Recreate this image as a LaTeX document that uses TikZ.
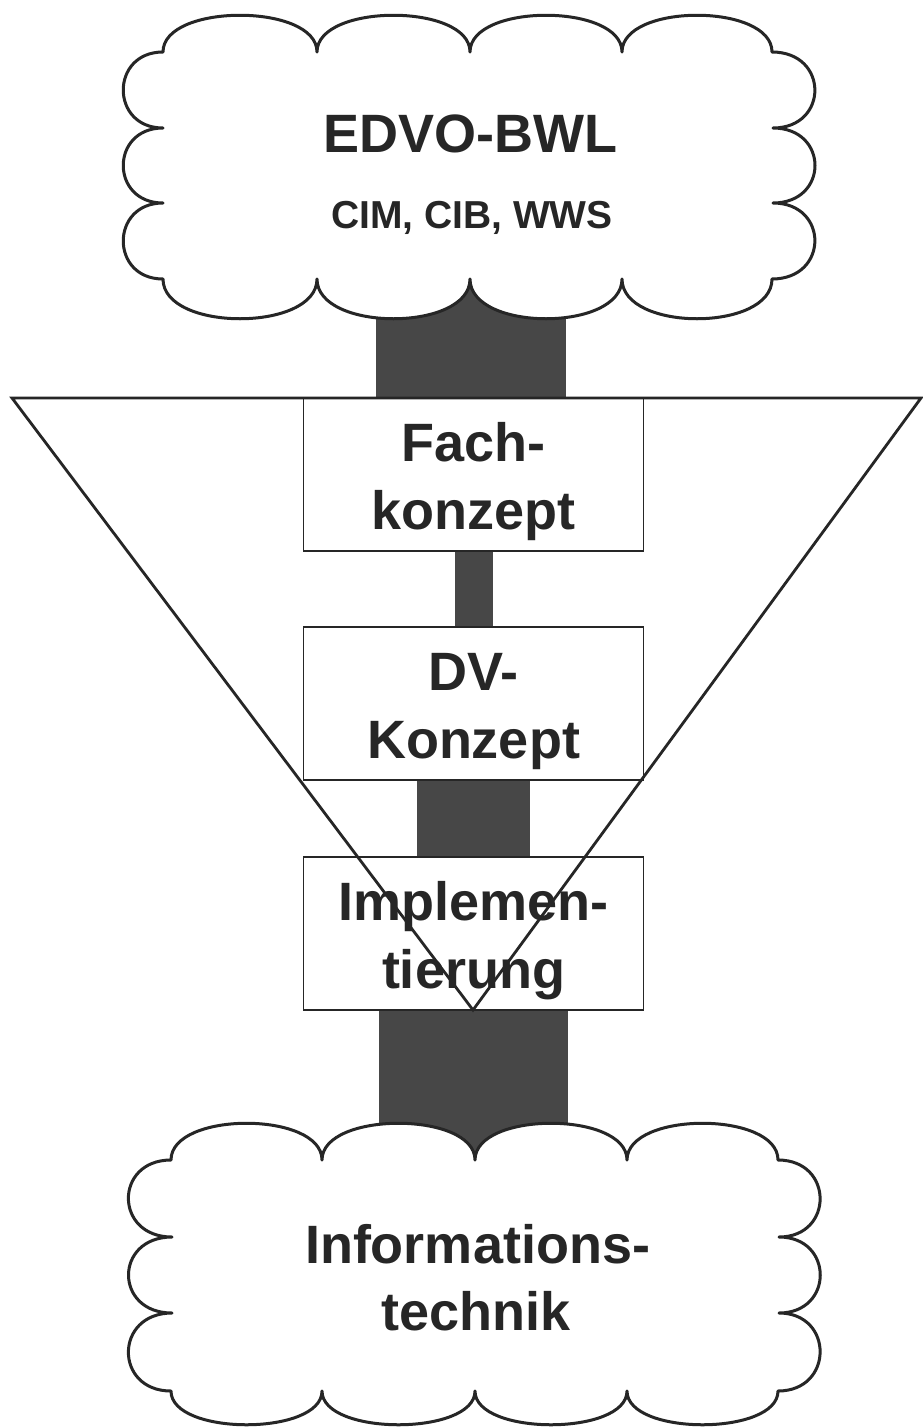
\documentclass[tikz,border=0pt]{standalone}
\usepackage{fontspec}
\setmainfont{Liberation Sans}
\begin{document}
\begin{tikzpicture}[x=1pt,y=-1pt,
  cloudline/.style={draw=black!85, line width=3pt, fill=white, line join=round},
  conbox/.style={draw=black!85, line width=1.6pt, fill=white, rectangle, inner sep=0pt, outer sep=0pt, minimum width=340pt, minimum height=153pt},
  barfill/.style={fill=black!72},
  triline/.style={draw=black!85, line width=2.8pt, line join=miter},
  lbl/.style={anchor=base, inner sep=0pt, text=black!85, font=\fontsize{54}{60}\selectfont\bfseries},
  lblsmall/.style={anchor=base, inner sep=0pt, text=black!85, font=\fontsize{39}{44}\selectfont\bfseries}]
\useasboundingbox[fill=white] (0,0) rectangle (923,1427);

% named anchor points
\coordinate (topbar) at (471,250);
\coordinate (botbar) at (473.5,1200);
\coordinate (tl) at (12,398);
\coordinate (tr) at (921,398);
\coordinate (apex) at (473,1010);

% boxes (named, drawn later over the bars)
\path (473.5,474.5) node[conbox, draw=none, fill=none] (fach) {};
\path (473.5,703.5) node[conbox, draw=none, fill=none] (dv) {};
\path (473.5,933.5) node[conbox, draw=none, fill=none] (impl) {};

% bars (connectors)
\fill[barfill] ([xshift=-95pt]topbar) rectangle ([xshift=95pt]topbar |- fach.north);
\fill[barfill] ([xshift=-19pt]fach.south) rectangle ([xshift=19pt]dv.north);
\fill[barfill] ([xshift=-56.5pt]dv.south) rectangle ([xshift=56.5pt]impl.north);
\fill[barfill] ([xshift=-94.5pt]impl.south) rectangle ([xshift=94.5pt]botbar);

% top cloud
\path[cloudline] (163,52)
  .. controls (163,3) and (317,3) .. (317,52)
  .. controls (317,3) and (470,3) .. (470,52)
  .. controls (470,3) and (622,3) .. (622,52)
  .. controls (622,3) and (772,3) .. (772,52)
  .. controls (829,52) and (829,128) .. (773,128)
  .. controls (829,128) and (829,203) .. (773,203)
  .. controls (829,203) and (829,279) .. (772,279)
  .. controls (772,332) and (622,332) .. (622,279)
  .. controls (622,332) and (470,332) .. (470,279)
  .. controls (470,332) and (317,332) .. (317,279)
  .. controls (317,332) and (163,332) .. (163,279)
  .. controls (110,279) and (110,203) .. (163,203)
  .. controls (110,203) and (110,128) .. (163,128)
  .. controls (110,128) and (110,52) .. (163,52) -- cycle;

% bottom cloud
\path[cloudline] (171,1160)
  .. controls (171,1111) and (322,1111) .. (322,1160)
  .. controls (322,1111) and (475,1111) .. (475,1160)
  .. controls (475,1111) and (627,1111) .. (627,1160)
  .. controls (627,1111) and (778,1111) .. (778,1160)
  .. controls (834,1160) and (834,1237) .. (779,1237)
  .. controls (834,1237) and (834,1313) .. (779,1313)
  .. controls (834,1313) and (834,1391) .. (778,1391)
  .. controls (778,1436) and (627,1436) .. (627,1391)
  .. controls (627,1436) and (475,1436) .. (475,1391)
  .. controls (475,1436) and (322,1436) .. (322,1391)
  .. controls (322,1436) and (171,1436) .. (171,1391)
  .. controls (114,1391) and (114,1313) .. (172,1313)
  .. controls (114,1313) and (114,1237) .. (172,1237)
  .. controls (114,1237) and (114,1160) .. (171,1160) -- cycle;

% visible boxes
\path (473.5,474.5) node[conbox] (fachbox) {};
\path (473.5,703.5) node[conbox] (dvbox) {};
\path (473.5,933.5) node[conbox] (implbox) {};

% texts
\node[lbl] (t1) at (470,152) {EDVO-BWL};
\node[lblsmall] (t2) at (472,228) {CIM, CIB, WWS};
\node[lbl] (t3) at (473.5,461) {Fach-};
\node[lbl] (t4) at (473.5,529) {konzept};
\node[lbl] (t5) at (473.5,690) {DV-};
\node[lbl] (t6) at (473.5,758) {Konzept};
\node[lbl] (t7) at (473.5,920) {Implemen-};
\node[lbl] (t8) at (473.5,988) {tierung};
\node[lbl] (t9) at (477.5,1263) {Informations-};
\node[lbl] (t10) at (476,1330) {technik};

% triangle on top
\draw[triline] (tl) -- (tr) -- (apex) -- cycle;
\end{tikzpicture}
\end{document}
